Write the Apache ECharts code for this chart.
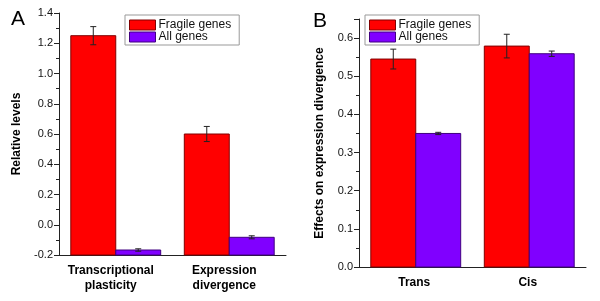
<!DOCTYPE html>
<html>
<head>
<meta charset="utf-8">
<script src="https://cdn.jsdelivr.net/npm/echarts@6/dist/echarts.min.js"></script>
<style>
  html, body { margin: 0; padding: 0; background: #fff; }
  #chart { width: 600px; height: 301px; }
</style>
</head>
<body>
<div id="chart"></div>
<script>
// panel A
var catsA = ['Transcriptional\nplasticity', 'Expression\ndivergence']
var fragileA = [1.25, 0.60]
var fragileErrA = [0.06, 0.05]
var allA = [-0.167, -0.083]
var allErrA = [0.008, 0.01]

// panel B
var catsB = ['Trans', 'Cis']
var fragileB = [0.545, 0.579]
var fragileErrB = [0.026, 0.031]
var allB = [0.35, 0.559]
var allErrB = [0.003, 0.007]

var RED = '#ff0000'
var PURPLE = '#8000ff'
var FONT = 'Liberation Sans, Arial, sans-serif'

function rows(vals, errs) {
  return vals.map(function (v, i) { return [i, v, errs[i]] })
}

// side 0 = left bar of the pair, 1 = right bar; bars start at the axis bottom
function barItem(side, yMin) {
  return function (params, api) {
    var c = api.value(0), v = api.value(1), e = api.value(2)
    var band = api.size([1, 0])[0]
    var w = band * 0.396
    var pt = api.coord([c, v])
    var base = api.coord([c, yMin])
    var x0 = side === 0 ? pt[0] - w : pt[0]
    var cx = x0 + w / 2
    var hi = api.coord([c, v + e])[1]
    var lo = api.coord([c, v - e])[1]
    var errStyle = { stroke: '#222', lineWidth: 1 }
    return {
      type: 'group',
      children: [
        { type: 'rect', shape: { x: x0, y: pt[1], width: w, height: base[1] - pt[1] }, style: api.style() },
        { type: 'line', shape: { x1: cx, y1: hi, x2: cx, y2: lo }, style: errStyle },
        { type: 'line', shape: { x1: cx - 3, y1: hi, x2: cx + 3, y2: hi }, style: errStyle },
        { type: 'line', shape: { x1: cx - 3, y1: lo, x2: cx + 3, y2: lo }, style: errStyle }
      ]
    }
  }
}

function legendCfg(left, top) {
  return {
    left: left, top: top,
    orient: 'vertical',
    icon: 'rect',
    itemWidth: 26, itemHeight: 10, itemGap: 0,
    padding: [4, 8, 2, 4],
    borderColor: '#999', borderWidth: 1,
    textStyle: { fontFamily: FONT, fontSize: 12, color: '#111', padding: [0, 0, 0, -2] },
    data: [
      { name: 'Fragile genes', itemStyle: { color: RED, borderColor: '#800000', borderWidth: 1 } },
      { name: 'All genes', itemStyle: { color: PURPLE, borderColor: '#400080', borderWidth: 1 } }
    ]
  }
}

function yAxisCfg(grid, min, max, interval, name, gap) {
  return {
    type: 'value', gridIndex: grid, min: min, max: max, interval: interval,
    name: name, nameLocation: 'middle', nameGap: gap,
    nameTextStyle: { fontFamily: FONT, fontSize: 12, fontWeight: 'bold', color: '#000' },
    axisLine: { show: true, lineStyle: { color: '#222', width: 1 } },
    axisTick: { show: true, length: 5, lineStyle: { color: '#222' } },
    minorTick: { show: true, splitNumber: 2, length: 3, lineStyle: { color: '#222' } },
    splitLine: { show: false },
    axisLabel: {
      fontFamily: FONT, fontSize: 11, color: '#111', margin: 6, showMaxLabel: interval === 0.2,
      formatter: function (v) { return v.toFixed(1) }
    }
  }
}

function xAxisCfg(grid, cats, pad) {
  return {
    type: 'category', gridIndex: grid, data: cats,
    axisLine: { onZero: false, lineStyle: { color: '#222', width: 1 } },
    axisTick: { alignWithLabel: true, length: 5, lineStyle: { color: '#222' } },
    axisLabel: {
      fontFamily: FONT, fontSize: 12, fontWeight: 'bold', color: '#000',
      margin: 8, lineHeight: 15, interval: 0, padding: pad
    }
  }
}

function xBoundsCfg(grid, cats) {
  return {
    type: 'category', gridIndex: grid, data: cats, position: 'bottom',
    axisLine: { show: false, onZero: false },
    axisTick: { length: 3, lineStyle: { color: '#222' } },
    axisLabel: { show: false }
  }
}

var chart = echarts.init(document.getElementById('chart'), null, { renderer: 'canvas' })
chart.setOption({
  animation: false,
  backgroundColor: '#fff',
  title: [
    { text: 'A', left: 6, top: 4, textStyle: { fontFamily: FONT, fontSize: 21, fontWeight: 'normal', color: '#000' } },
    { text: 'B', left: 308, top: 6, textStyle: { fontFamily: FONT, fontSize: 21, fontWeight: 'normal', color: '#000' } }
  ],
  legend: [legendCfg(125, 15), legendCfg(365, 15)],
  grid: [
    { left: 59, top: 13, width: 227, height: 242 },
    { left: 359, top: 19, width: 227, height: 248 }
  ],
  xAxis: [
    xAxisCfg(0, catsA, [0, 10, 0, 0]),
    xBoundsCfg(0, catsA),
    xAxisCfg(1, catsB, [0, 3, 0, 0]),
    xBoundsCfg(1, catsB)
  ],
  yAxis: [
    yAxisCfg(0, -0.2, 1.4, 0.2, 'Relative levels', 36),
    yAxisCfg(1, 0, 0.65, 0.1, 'Effects on expression divergence', 33)
  ],
  series: [
    {
      name: 'Fragile genes', type: 'custom', xAxisIndex: 0, yAxisIndex: 0,
      itemStyle: { color: RED, borderColor: '#800000', borderWidth: 1 },
      renderItem: barItem(0, -0.2), data: rows(fragileA, fragileErrA)
    },
    {
      name: 'All genes', type: 'custom', xAxisIndex: 0, yAxisIndex: 0,
      itemStyle: { color: PURPLE, borderColor: '#400080', borderWidth: 1 },
      renderItem: barItem(1, -0.2), data: rows(allA, allErrA)
    },
    {
      name: 'Fragile genes', type: 'custom', xAxisIndex: 2, yAxisIndex: 1,
      itemStyle: { color: RED, borderColor: '#800000', borderWidth: 1 },
      renderItem: barItem(0, 0), data: rows(fragileB, fragileErrB)
    },
    {
      name: 'All genes', type: 'custom', xAxisIndex: 2, yAxisIndex: 1,
      itemStyle: { color: PURPLE, borderColor: '#400080', borderWidth: 1 },
      renderItem: barItem(1, 0), data: rows(allB, allErrB)
    }
  ]
})
</script>
</body>
</html>
